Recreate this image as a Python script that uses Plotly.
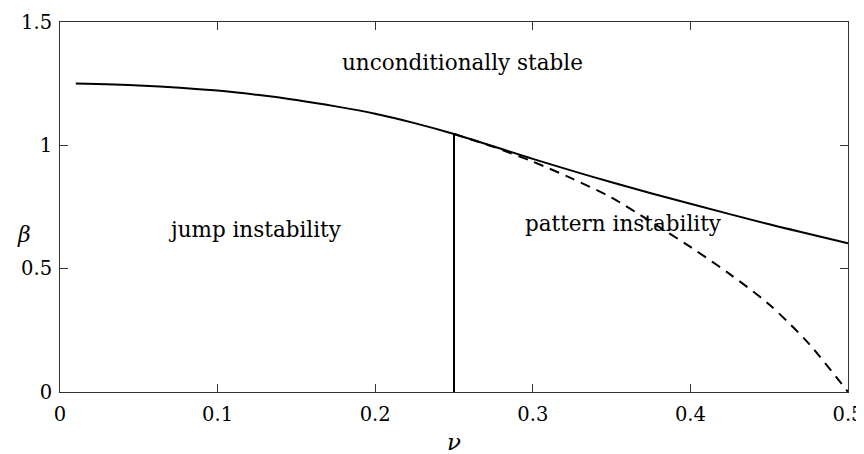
import plotly.graph_objects as go

# ---- data ----
nu_solid = [0.01, 0.05, 0.1, 0.125, 0.15, 0.175, 0.2, 0.225, 0.25, 0.3, 0.35, 0.4, 0.45, 0.5]
beta_solid = [1.251, 1.243, 1.222, 1.205, 1.184, 1.158, 1.128, 1.090, 1.046, 0.945, 0.850, 0.763, 0.680, 0.603]

nu_dashed = [0.25, 0.275, 0.3, 0.325, 0.35, 0.375, 0.4, 0.425, 0.45, 0.475, 0.5]
beta_dashed = [1.046, 0.994, 0.934, 0.865, 0.788, 0.690, 0.588, 0.478, 0.355, 0.197, 0.0]

nu_vertical = [0.25, 0.25]
beta_vertical = [0.0, 1.046]

x_ticks = [0, 0.1, 0.2, 0.3, 0.4, 0.5]
x_tick_labels = ["0", "0.1", "0.2", "0.3", "0.4", "0.5"]
y_ticks = [0, 0.5, 1, 1.5]
y_tick_labels = ["0", "0.5", "1", "1.5"]

region_labels = ["unconditionally stable", "jump instability", "pattern instability"]
region_nu = [0.2551, 0.1239, 0.3575]
region_beta = [1.334, 0.657, 0.685]

FONT = "DejaVu Serif"
AXC = "#333333"

fig = go.Figure()
fig.add_trace(go.Scatter(x=nu_solid, y=beta_solid, mode="lines",
                         line=dict(color="black", width=2, shape="spline", smoothing=0.8),
                         showlegend=False, hoverinfo="skip"))
fig.add_trace(go.Scatter(x=nu_dashed, y=beta_dashed, mode="lines",
                         line=dict(color="black", width=2, dash="10px,7px", shape="spline", smoothing=0.8),
                         showlegend=False, hoverinfo="skip"))
fig.add_trace(go.Scatter(x=nu_vertical, y=beta_vertical, mode="lines",
                         line=dict(color="black", width=2),
                         showlegend=False, hoverinfo="skip"))

for txt, xv, yv in zip(region_labels, region_nu, region_beta):
    fig.add_annotation(x=xv, y=yv, xref="x", yref="y", text=txt, showarrow=False,
                       font=dict(family=FONT, size=21.5, color="black"))

fig.add_annotation(x=0.2497, y=0, xref="x", yref="y", yshift=-50, text="<i>ν</i>",
                   showarrow=False, font=dict(family=FONT, size=23, color="black"))
fig.add_annotation(x=-0.057, y=0.64, xref="paper", yref="y", text="<i>β</i>",
                   showarrow=False, font=dict(family=FONT, size=22, color="black"))

axis_common = dict(showgrid=False, zeroline=False, showline=True, linecolor=AXC, linewidth=1,
                   mirror="allticks", ticks="inside", ticklen=8, tickcolor=AXC, tickwidth=1,
                   automargin=False,
                   tickfont=dict(family=FONT, size=19.5, color="black"))

fig.update_xaxes(range=[0, 0.5], tickvals=x_ticks, ticktext=x_tick_labels,
                 ticklabelstandoff=5, **axis_common)
fig.update_yaxes(range=[0, 1.5], tickvals=y_ticks, ticktext=y_tick_labels,
                 ticklabelstandoff=3, **axis_common)

# page body adds an 8px offset, so the figure is 8px smaller on each axis
fig.update_layout(width=856, height=446, margin=dict(l=52, r=16, t=14, b=62),
                  paper_bgcolor="white", plot_bgcolor="white")

fig.write_html("out.html")
